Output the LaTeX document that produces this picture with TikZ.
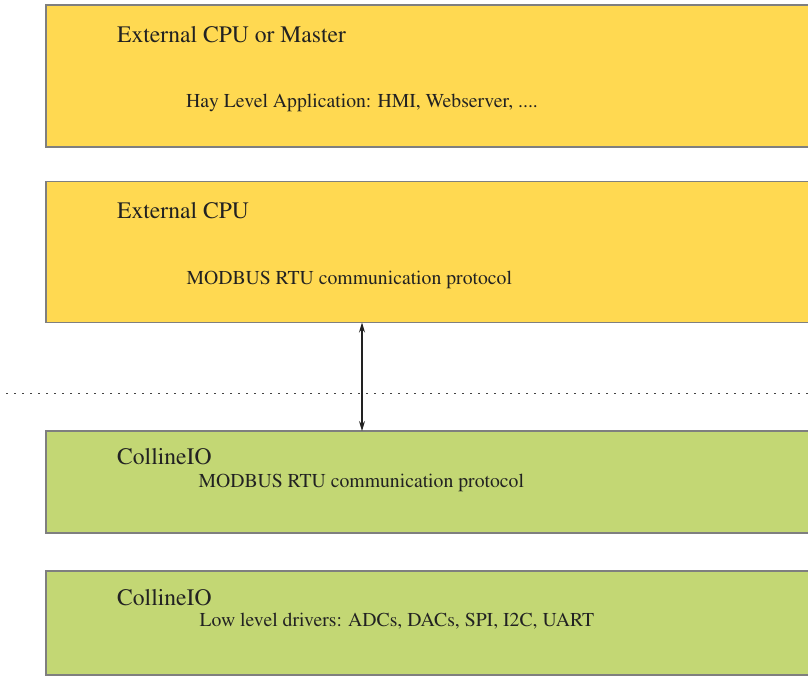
\documentclass[tikz,border=0pt]{standalone}
\usepackage[T1]{fontenc}
\renewcommand{\rmdefault}{ptm}
\usetikzlibrary{arrows.meta}
\definecolor{boxyellow}{HTML}{FFD951}
\definecolor{boxgreen}{HTML}{C3D774}
\definecolor{boxedge}{HTML}{7F7F7F}
\definecolor{txt}{HTML}{222222}
\tikzset{
  layerbox/.style={draw=boxedge, line width=1.3pt, inner sep=0pt, outer sep=0pt,
    anchor=north west, minimum width=775pt, minimum height=#1},
  titletext/.style={anchor=base west, inner sep=0pt, text=txt,
    font=\rmfamily\fontsize{23.6}{26}\selectfont},
  subtext/.style={anchor=base west, inner sep=0pt, text=txt,
    font=\rmfamily\fontsize{19.7}{22}\selectfont},
  sep/.style={draw=txt!85, line width=1.6pt, dash pattern=on 1.6pt off 6.4pt},
  link/.style={draw=txt, line width=1.1pt, arrows={Stealth[length=10pt,width=6pt]-Stealth[length=10pt,width=6pt]}}
}
\begin{document}
\begin{tikzpicture}[x=1pt,y=-1pt]
\useasboundingbox (0,0) rectangle (808,677);
% boxes
\node[layerbox=142pt, fill=boxyellow] (b1) at (46,5) {};
\node[layerbox=141pt, fill=boxyellow] (b2) at (46,181.5) {};
\node[layerbox=102pt, fill=boxgreen] (b3) at (46,431) {};
\node[layerbox=104pt, fill=boxgreen] (b4) at (46,571) {};
% texts
\node[titletext] (t1) at (117,42.7) {External CPU or Master};
\node[subtext] (s1) at (186,107) {Hay Level Application: HMI, Webserver, ....};
\node[titletext] (t2) at (117,218.3) {External CPU};
\node[subtext] (s2) at (186.5,284) {MODBUS RTU communication protocol};
\node[titletext] (t3) at (117,464) {CollineIO};
\node[subtext] (s3) at (198.5,487.3) {MODBUS RTU communication protocol};
\node[titletext] (t4) at (117,605) {CollineIO};
\node[subtext] (s4) at (199.5,626.7) {Low level drivers: ADCs, DACs, SPI, I2C, UART};
% dotted separator
\coordinate (dl) at (6,393.3);
\coordinate (dr) at (808,393.3);
\draw[sep] (dl) -- (dr);
% link arrow
\coordinate (ax) at (362,0);
\draw[link] (ax |- b2.south) -- (ax |- b3.north);
\end{tikzpicture}
\end{document}
